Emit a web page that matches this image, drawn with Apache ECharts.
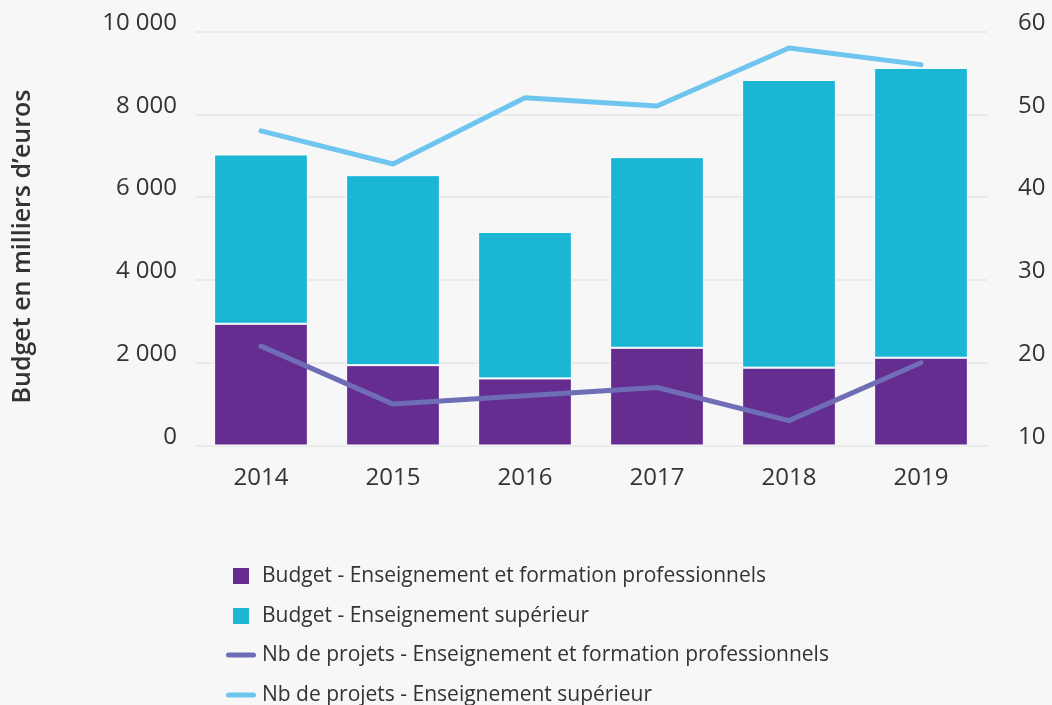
<!DOCTYPE html>
<html>
<head>
<meta charset="utf-8">
<script src="https://cdn.jsdelivr.net/npm/echarts@6/dist/echarts.min.js"></script>
<style>
html,body{margin:0;padding:0;background:#f7f7f7;}
#chart{width:1052px;height:705px;}
</style>
</head>
<body>
<div id="chart"></div>
<script>
const years = ['2014','2015','2016','2017','2018','2019'];
const budgetEFP = [2940, 1940, 1620, 2360, 1880, 2120];
const budgetSup = [4090, 4590, 3540, 4605, 6950, 7000];
const projetsEFP = [22, 15, 16, 17, 13, 20];
const projetsSup = [48, 44, 52, 51, 58, 56];
const leftTicks = [0, 2000, 4000, 6000, 8000, 10000];
const rightTicks = [10, 20, 30, 40, 50, 60];

const FONT = '"Open Sans", sans-serif';
const TXT = '#333333';
function fmt(v){ return String(v).replace(/\B(?=(\d{3})+(?!\d))/g, ' '); }

const chart = echarts.init(document.getElementById('chart'), null, {renderer:'canvas'});
chart.setOption({
  backgroundColor: '#f7f7f7',
  animation: false,
  grid: {left: 195, right: 65, top: 31.5, bottom: 259.5, containLabel: false, outerBoundsMode: 'none'},
  legend: [
    {
      orient: 'vertical', left: 233, top: 565, padding: 0, height: 120,
      itemWidth: 16, itemHeight: 16, itemGap: 18,
      icon: 'rect', itemStyle: {borderWidth: 0},
      textStyle: {fontFamily: FONT, fontSize: 21, color: TXT, lineHeight: 22, padding: [0,0,0,8]},
      data: ['Budget - Enseignement et formation professionnels', 'Budget - Enseignement supérieur']
    },
    {
      orient: 'vertical', left: 226, top: 644, padding: 0, height: 120,
      itemWidth: 30, itemHeight: 5, itemGap: 18,
      icon: 'path://M2.5,0 h25 a2.5,2.5 0 0 1 0,5 h-25 a2.5,2.5 0 0 1 0,-5z',
      textStyle: {fontFamily: FONT, fontSize: 21, color: TXT, lineHeight: 22, padding: [0,0,0,1]},
      data: ['Nb de projets - Enseignement et formation professionnels', 'Nb de projets - Enseignement supérieur']
    }
  ],
  xAxis: {
    type: 'category', data: years,
    axisLine: {show: false}, axisTick: {show: false},
    axisLabel: {fontFamily: FONT, fontSize: 24, color: TXT, margin: 21}
  },
  yAxis: [
    {
      type: 'value', min: 0, max: 10000, interval: 2000,
      name: 'Budget en milliers d\u2019euros', nameLocation: 'middle', nameGap: 160,
      nameTextStyle: {fontFamily: FONT, fontSize: 25, fontWeight: 600, color: TXT, padding: [0, 16, 0, 0]},
      axisLine: {show: false}, axisTick: {show: false},
      axisLabel: {fontFamily: FONT, fontSize: 24, color: TXT, margin: 18, verticalAlign: 'bottom', lineHeight: 17, formatter: v => fmt(v)},
      splitLine: {lineStyle: {color: '#e6e6e6', width: 1.5}}
    },
    {
      type: 'value', min: 10, max: 60, interval: 10, position: 'right',
      axisLine: {show: false}, axisTick: {show: false},
      axisLabel: {
        fontFamily: FONT, fontSize: 24, color: TXT, margin: 31, align: 'left', verticalAlign: 'bottom', lineHeight: 17,
        formatter: v => '{p|' + v + '}',
        rich: {p: {fontFamily: FONT, fontSize: 24, color: TXT, lineHeight: 17}}
      },
      splitLine: {show: false}
    }
  ],
  series: [
    {
      name: 'Budget - Enseignement et formation professionnels', type: 'bar', stack: 'b',
      data: budgetEFP, barWidth: '71%', yAxisIndex: 0,
      itemStyle: {color: '#652d8f', borderColor: '#ffffff', borderWidth: 1}
    },
    {
      name: 'Budget - Enseignement supérieur', type: 'bar', stack: 'b',
      data: budgetSup, barWidth: '71%', yAxisIndex: 0,
      itemStyle: {color: '#1bb6d4', borderColor: '#ffffff', borderWidth: 1}
    },
    {
      name: 'Nb de projets - Enseignement et formation professionnels', type: 'line',
      data: projetsEFP, yAxisIndex: 1, showSymbol: false, symbol: 'none',
      lineStyle: {color: '#6e6db5', width: 5, cap: 'round', join: 'round'},
      itemStyle: {color: '#6e6db5'}
    },
    {
      name: 'Nb de projets - Enseignement supérieur', type: 'line',
      data: projetsSup, yAxisIndex: 1, showSymbol: false, symbol: 'none',
      lineStyle: {color: '#6ec6ef', width: 5, cap: 'round', join: 'round'},
      itemStyle: {color: '#6ec6ef'}
    }
  ]
});
</script>
</body>
</html>
